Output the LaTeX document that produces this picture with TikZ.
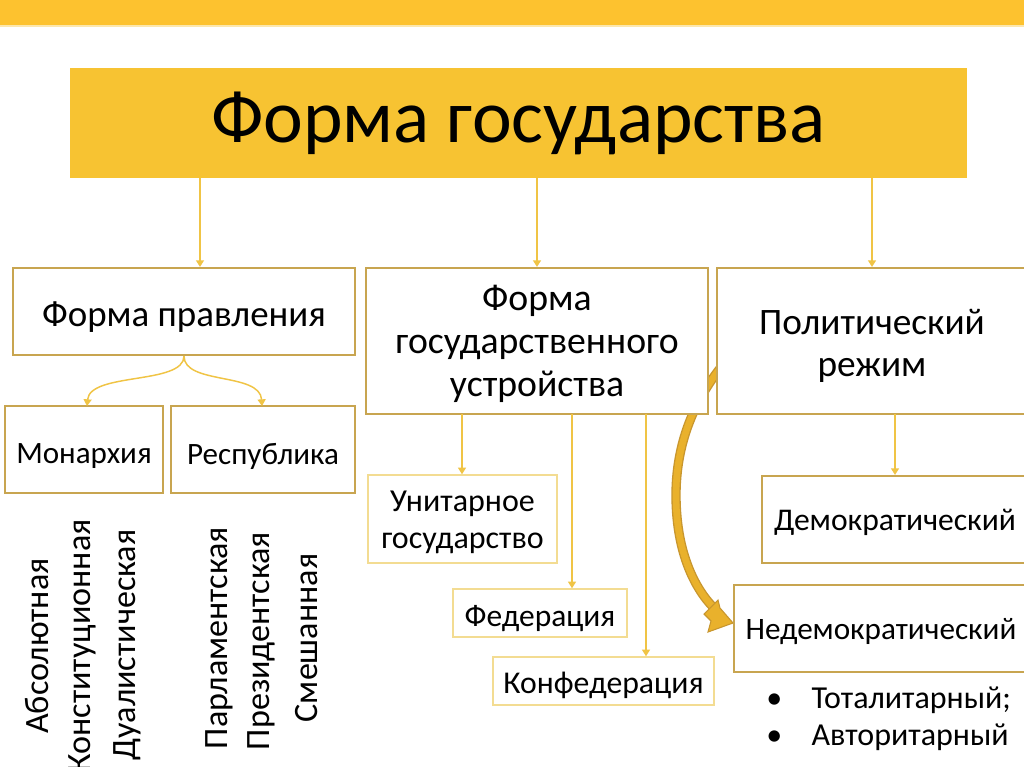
\documentclass[tikz,border=0pt]{standalone}
\usepackage{fontspec}
\setmainfont{Carlito}
\usetikzlibrary{arrows.meta}
\definecolor{topc}{HTML}{FDC22F}
\definecolor{titlec}{HTML}{F7C332}
\definecolor{bordc}{HTML}{C8A550}
\definecolor{lightc}{HTML}{F3DC92}
\definecolor{arrc}{HTML}{F0C445}
\definecolor{bigc}{HTML}{E9B12C}
\definecolor{bigedge}{HTML}{C8962E}
\newcommand\lowertxt[2]{\raisebox{-#1}[\height][\depth]{#2}}
\tikzset{
  box/.style={draw=bordc, line width=1.6pt, fill=white, inner sep=0pt, align=center, text=black},
  lbox/.style={draw=lightc, line width=1.1pt, fill=white, inner sep=0pt, align=center, text=black},
  txt/.style={inner sep=0pt, align=center, text=black},
  arr/.style={draw=arrc, line width=1.1pt, -{Triangle[width=6pt,length=5pt]}},
  vtext/.style={rotate=90, inner sep=0pt, font=\fontsize{25.6}{28}\selectfont},
}
\begin{document}
\begin{tikzpicture}[x=0.75pt,y=-0.75pt]
\useasboundingbox (0,0) rectangle (1024,767);
\fill[white] (0,0) rectangle (1024,767);
\fill[topc] (0,0) rectangle (1024,25);
\fill[titlec!40] (0,25) rectangle (1024,27);

% big curved arrow (behind boxes)
\draw[bigedge, line width=7pt, line cap=butt] (748,338) .. controls (705,378) and (676,430) .. (676,495) .. controls (676,560) and (700,595) .. (716,610);
\draw[bigc, line width=5pt, line cap=butt] (748,338) .. controls (705,378) and (676,430) .. (676,495) .. controls (676,560) and (700,595) .. (716,610);
\fill[bigc, draw=bigedge, line width=0.8pt] (733,623) -- (708,632) -- (711,621) -- (704,614) -- (718,600) -- (720,608) -- cycle;

% title
\node[fill=titlec, inner sep=0pt, minimum width=672.75pt, minimum height=82.5pt, font=\fontsize{56.5}{64}\selectfont] (title) at (518.5,123) {Форма государства};

% level 2
\node[box, minimum width=256.5pt, minimum height=65.25pt, font=\fontsize{27.7}{32}\selectfont] (fp) at (184,311.5) {\lowertxt{4.5pt}{Форма правления}};
\node[box, minimum width=256.5pt, minimum height=109.5pt] (fgu) at (537,341) {};
\node[txt, font=\fontsize{28.3}{32.5}\selectfont] (fgut) at (537,344) {Форма\\государственного\\устройства};
\node[box, minimum width=232.5pt, minimum height=109.5pt] (pr) at (872,341) {};
\node[txt, font=\fontsize{28}{32}\selectfont] (prt) at (872,346) {Политический\\режим};

% level 3 left
\node[box, minimum width=118.5pt, minimum height=65.25pt, font=\fontsize{23.3}{27}\selectfont] (mon) at (84,449.5) {\lowertxt{5.25pt}{Монархия}};
\node[box, minimum width=138pt, minimum height=65.25pt, font=\fontsize{23.3}{27}\selectfont] (rep) at (263,449.5) {\lowertxt{5.25pt}{Республика}};

% level 3 middle
\node[lbox, minimum width=141.75pt, minimum height=66pt] (unit) at (462.5,519) {};
\node[txt, font=\fontsize{24}{27.3}\selectfont] (unitt) at (462.5,522.5) {Унитарное\\государство};
\node[lbox, minimum width=130.5pt, minimum height=36pt, font=\fontsize{23.6}{26}\selectfont] (fed) at (540,613) {\lowertxt{4.5pt}{Федерация}};
\node[lbox, minimum width=165.75pt, minimum height=36pt, font=\fontsize{23.8}{26}\selectfont] (konf) at (603.5,681) {\lowertxt{3pt}{Конфедерация}};

% level 3 right
\node[box, minimum width=199.5pt, minimum height=65.25pt, font=\fontsize{23.7}{27}\selectfont] (dem) at (895,519.5) {\lowertxt{2.25pt}{Демократический}};
\node[box, minimum width=220.5pt, minimum height=65.25pt, font=\fontsize{23.4}{27}\selectfont] (ned) at (881,628.5) {\lowertxt{2.25pt}{Недемократический}};

% bullets
\node[anchor=west, inner sep=0pt, font=\fontsize{24}{28}\selectfont] (b1) at (766,700) {•\hspace{22pt}Тоталитарный;};
\node[anchor=west, inner sep=0pt, font=\fontsize{24}{28}\selectfont] (b2) at (766,737) {•\hspace{22pt}Авторитарный};

% vertical texts
\node[vtext] (v1) at (37,646) {Абсолютная};
\node[vtext] (v2) at (82,646) {Конституционная};
\node[vtext] (v3) at (127,645) {Дуалистическая};
\node[vtext] (v4) at (219,638) {Парламентская};
\node[vtext] (v5) at (261,641) {Президентская};
\node[vtext] (v6) at (307,638) {Смешанная};

% connectors from title
\coordinate (t1) at (200,178);
\coordinate (t2) at (537,178);
\coordinate (t3) at (872,178);
\draw[arr] (t1) -- (t1 |- fp.north);
\draw[arr] (t2) -- (t2 |- fgu.north);
\draw[arr] (t3) -- (t3 |- pr.north);

% form of government
\coordinate (m1) at (87,406);
\coordinate (r1) at (262,406);
\draw[arr] (fp.south) .. controls (184,385) and (90,372) .. (m1);
\draw[arr] (fp.south) .. controls (184,385) and (260,372) .. (r1);

% state structure
\coordinate (f1) at (462,414);
\coordinate (f2) at (572,414);
\coordinate (f3) at (646,414);
\draw[arr] (f1) -- (f1 |- unit.north);
\draw[arr] (f2) -- (f2 |- fed.north);
\draw[arr] (f3) -- (f3 |- konf.north);

% regime
\coordinate (p1) at (895,414);
\draw[arr] (p1) -- (p1 |- dem.north);
\end{tikzpicture}
\end{document}
